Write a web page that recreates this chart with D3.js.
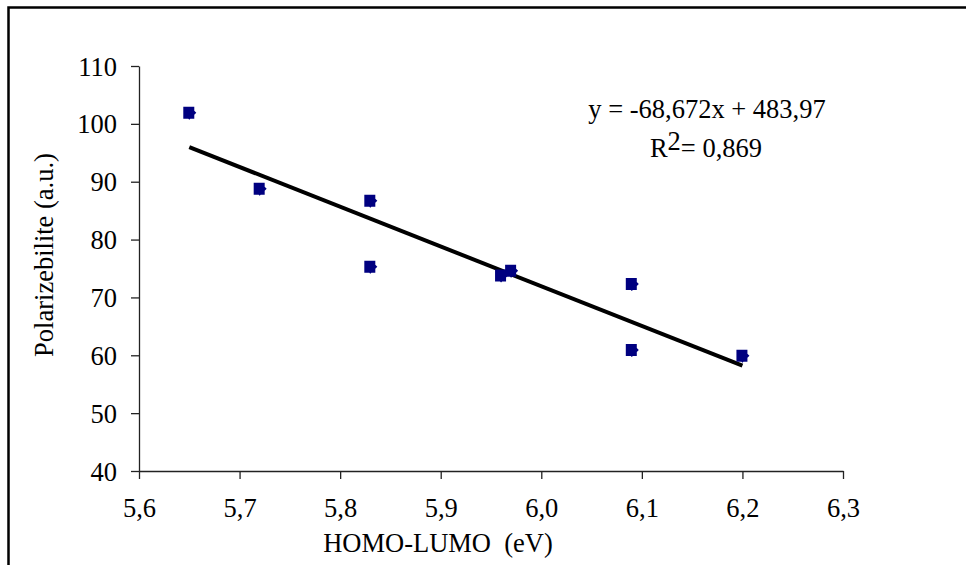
<!DOCTYPE html>
<html>
<head>
<meta charset="utf-8">
<script src="https://cdn.jsdelivr.net/npm/d3@7"></script>
<style>
  body { margin: 0; background: #fff; }
  svg { display: block; font-family: "Liberation Serif", "Times New Roman", serif; }
</style>
</head>
<body>
<div id="chart"></div>
<script>
// Data
const gapValues = [5.65, 5.72, 5.83, 5.83, 5.96, 5.97, 6.09, 6.09, 6.20];
const polarValues = [101.9, 88.8, 86.7, 75.3, 73.8, 74.6, 72.3, 60.9, 59.9];
const xTicks = [5.6, 5.7, 5.8, 5.9, 6.0, 6.1, 6.2, 6.3];
const yTicks = [40, 50, 60, 70, 80, 90, 100, 110];
const slope = -68.672;
const intercept = 483.97;
const equationText = "y = -68,672x + 483,97";
const r2Text = "= 0,869";

const width = 966;
const height = 565;
const plot = { left: 139, right: 843, top: 66, bottom: 471 };
const fontSize = "26.5px";

const svg = d3.select("#chart")
    .append("svg")
    .attr("width", width)
    .attr("height", height);

// Outer frame (only left and top edges are visible)
svg.append("rect")
    .attr("x", 8.5)
    .attr("y", 7.5)
    .attr("width", width + 20)
    .attr("height", height + 20)
    .attr("fill", "none")
    .attr("stroke", "#000")
    .attr("stroke-width", 2.5);

// Scales
const x = d3.scaleLinear().domain([5.6, 6.3]).range([plot.left, plot.right]);
const y = d3.scaleLinear().domain([40, 110]).range([plot.bottom, plot.top]);

const comma = d => d3.format(".1f")(d).replace(".", ",");

// X axis
const xAxis = svg.append("g")
    .attr("transform", `translate(0,${plot.bottom})`)
    .call(d3.axisBottom(x).tickValues(xTicks).tickFormat(comma).tickSizeInner(8).tickSizeOuter(0).tickPadding(19));

// Y axis
const yAxis = svg.append("g")
    .attr("transform", `translate(${plot.left},0)`)
    .call(d3.axisLeft(y).tickValues(yTicks).tickFormat(d3.format("d")).tickSizeInner(8).tickSizeOuter(0).tickPadding(14));

[xAxis, yAxis].forEach(ax => {
    ax.select(".domain").attr("stroke", "#222").attr("stroke-width", 1.3);
    ax.selectAll(".tick line").attr("stroke", "#222").attr("stroke-width", 1.3);
    ax.selectAll(".tick text")
        .attr("fill", "#000")
        .style("font-family", "'Liberation Serif', serif")
        .style("font-size", fontSize);
});
yAxis.selectAll(".tick text").attr("dy", "0.34em");

// Regression line
const xMin = d3.min(gapValues), xMax = d3.max(gapValues);
svg.append("line")
    .attr("x1", x(xMin))
    .attr("y1", y(slope * xMin + intercept))
    .attr("x2", x(xMax))
    .attr("y2", y(slope * xMax + intercept))
    .attr("stroke", "#000")
    .attr("stroke-width", 4);

// Points
const points = gapValues.map((g, i) => ({ g: g, p: polarValues[i] }));
svg.append("g")
    .selectAll("path")
    .data(points)
    .enter().append("path")
    .attr("transform", d => `translate(${x(d.g)},${y(d.p)})`)
    .attr("d", "M-6,-6 L5,-6 L5,-2 L7,0 L5,2 L5,6 L1,6 L0,7 L-1,6 L-6,6 Z")
    .attr("fill", "#000080");

// Equation
svg.append("text")
    .attr("x", 707)
    .attr("y", 118)
    .attr("text-anchor", "middle")
    .style("font-size", fontSize)
    .attr("fill", "#000")
    .text(equationText);
const r2 = svg.append("text")
    .attr("x", 706)
    .attr("y", 157)
    .attr("text-anchor", "middle")
    .style("font-size", fontSize)
    .attr("fill", "#000");
r2.append("tspan").text("R");
r2.append("tspan").attr("dy", -7).text("2");
r2.append("tspan").attr("dy", 7).text(r2Text);

// Axis titles
svg.append("text")
    .attr("x", 438)
    .attr("y", 552)
    .attr("text-anchor", "middle")
    .style("font-size", fontSize)
    .attr("xml:space", "preserve")
    .text("HOMO-LUMO  (eV)");

svg.append("text")
    .attr("transform", "translate(53,255) rotate(-90)")
    .attr("text-anchor", "middle")
    .style("font-size", fontSize)
    .text("Polarizebilite (a.u.)");
</script>
</body>
</html>
